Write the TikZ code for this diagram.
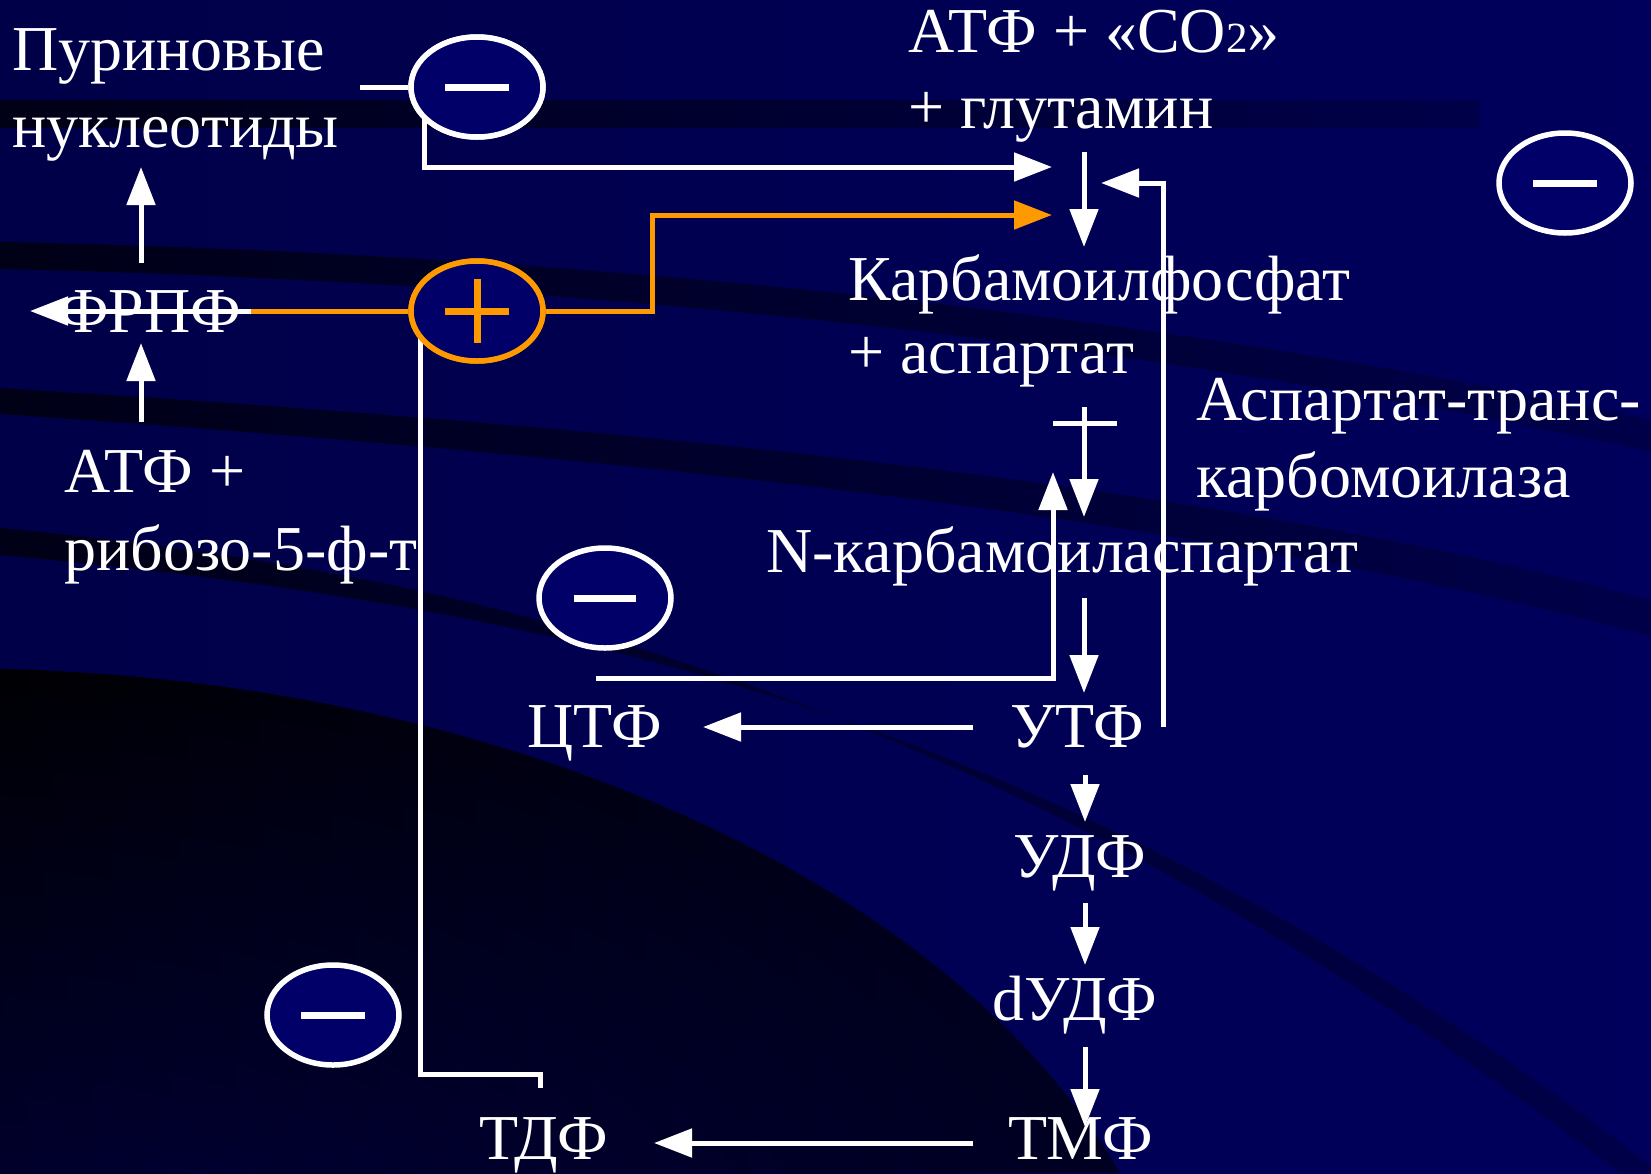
\documentclass[tikz,border=0pt]{standalone}
\usepackage{fontspec}
\setmainfont{Liberation Serif}
\usetikzlibrary{arrows.meta,shapes.geometric}
\definecolor{bgnavy}{RGB}{0,0,92}
\definecolor{bgleft}{RGB}{0,0,72}
\definecolor{ellfill}{RGB}{0,0,104}
\definecolor{orng}{RGB}{255,153,0}
\definecolor{band}{RGB}{0,0,22}
\begin{document}
\begin{tikzpicture}[x=1pt,y=-1pt,
  lbl/.style={anchor=base west, inner sep=0pt, text=white, font=\fontsize{64}{77}\selectfont},
  conn/.style={draw=white, line width=5pt},
  arr/.style={conn, -{Triangle[length=38pt,width=28pt]}},
  oconn/.style={draw=orng, line width=5pt},
  oarr/.style={oconn, -{Triangle[length=38pt,width=28pt]}},
  sign/.style={ellipse, draw=white, line width=5.5pt, fill=ellfill, minimum width=132pt, minimum height=100pt, inner sep=0pt},
  signbar/.style={line width=7pt, line cap=butt},
  bandshade/.style={left color=band, right color=bgnavy!80!black}
  ]
% ---------- background ----------
\useasboundingbox (0,0) rectangle (1651,1173);
\fill[left color=bgleft, right color=bgnavy] (0,0) rectangle (1651,1173);
\shade[bandshade] (0,100) rectangle (1480,127);
\shade[bandshade] (0,242) .. controls (500,252) and (1100,300) .. (1651,420) -- (1651,452) .. controls (1100,330) and (500,280) .. (0,269) -- cycle;
\shade[bandshade] (0,388) .. controls (600,425) and (1200,480) .. (1651,600) -- (1651,636) .. controls (1200,515) and (600,455) .. (0,414) -- cycle;
\shade[bandshade] (0,528) .. controls (500,575) and (1000,700) .. (1620,1173) -- (1660,1173) .. controls (1040,690) and (500,602) .. (0,555) -- cycle;
% dark sweep in the lower left
\foreach \i in {0,...,20}{
  \pgfmathsetmacro\t{\i/20}
  \pgfmathtruncatemacro\pl{96-2.2*\i}
  \pgfmathtruncatemacro\pr{62-0.8*\i}
  \shade[left color=black!\pl!bgnavy, right color=black!\pr!bgnavy]
    (0,{669+\t*(1173-669)}) .. controls ({500*(1-\t)},{680+\t*(1173-680)}) and ({950-\t*(950-100)},{880+\t*(1173-880)}) .. ({1120-\t*(1120-160)},1173) -- (0,1173) -- cycle;
}
% ---------- coordinates ----------
\coordinate (inA) at (360,87);
\coordinate (brA) at (424,110);
\coordinate (tipTopW) at (1052,167);
\coordinate (oB) at (652,215);
\coordinate (tipTopO) at (1052,215);
\coordinate (oL) at (251,311);
\coordinate (tipL) at (30,311);
\coordinate (vA) at (420,330);
\coordinate (vB) at (540,1074);
\coordinate (vC) at (540,1088);
\coordinate (u1s) at (141,263);
\coordinate (u1e) at (141,167);
\coordinate (u2s) at (141,422);
\coordinate (u2e) at (141,343);
\coordinate (d1s) at (1084,152);
\coordinate (d1e) at (1084,247);
\coordinate (rS) at (1163,727);
\coordinate (rE) at (1101,183);
\coordinate (tbL) at (1053,423);
\coordinate (tbR) at (1117,423);
\coordinate (d2s) at (1084,407);
\coordinate (d2e) at (1084,517);
\coordinate (fS) at (596,678);
\coordinate (fE) at (1053,472);
\coordinate (d3s) at (1084,598);
\coordinate (d3e) at (1084,693);
\coordinate (l1s) at (973,727);
\coordinate (l1e) at (703,727);
\coordinate (d4s) at (1085,775);
\coordinate (d4e) at (1085,822);
\coordinate (d5s) at (1085,903);
\coordinate (d5e) at (1085,965);
\coordinate (d6s) at (1085,1047);
\coordinate (d6e) at (1085,1127);
\coordinate (l2s) at (973,1143);
\coordinate (l2e) at (654,1143);
% ---------- sign ellipses (nodes) ----------
\node[sign] (mA) at (477,87) {};
\node[sign, draw=orng] (pA) at (477,311) {};
\node[sign] (mB) at (605,598) {};
\node[sign] (mC) at (1565,183) {};
\node[sign] (mD) at (333,1015) {};
% ---------- connectors ----------
\draw[conn] (inA) -- (mA.west);
\draw[arr] (brA) |- (tipTopW);
\draw[oarr] (pA.east) -| (oB) -- (tipTopO);
\draw[oconn] (oL) -- (pA.west);
\draw[arr] (oL) -- (tipL);
\draw[conn] (vA) |- (vB) -- (vC);
\draw[arr] (u1s) -- (u1e);
\draw[arr] (u2s) -- (u2e);
\draw[arr] (d1s) -- (d1e);
\draw[arr] (rS) |- (rE);
\draw[conn] (tbL) -- (tbR);
\draw[arr] (d2s) -- (d2e);
\draw[arr] (fS) -| (fE);
\draw[arr] (d3s) -- (d3e);
\draw[arr] (l1s) -- (l1e);
\draw[arr] (d4s) -- (d4e);
\draw[arr] (d5s) -- (d5e);
\draw[arr] (d6s) -- (d6e);
\draw[arr] (l2s) -- (l2e);
% redraw ellipses on top of connector ends
\node[sign] at (mA) {};
\node[sign, draw=orng] at (pA) {};
% signs
\draw[signbar, white] ([xshift=-32pt]mA.center) -- ([xshift=32pt]mA.center);
\draw[signbar, orng] ([xshift=-32pt]pA.center) -- ([xshift=32pt]pA.center);
\draw[signbar, orng] ([yshift=-32pt]pA.center) -- ([yshift=32pt]pA.center);
\draw[signbar, white] ([xshift=-31pt]mB.center) -- ([xshift=31pt]mB.center);
\draw[signbar, white] ([xshift=-32pt]mC.center) -- ([xshift=32pt]mC.center);
\draw[signbar, white] ([xshift=-32pt]mD.center) -- ([xshift=32pt]mD.center);
% ---------- texts ----------
\node[lbl] (pur1) at (12,70) {Пуриновые};
\node[lbl] (pur2) at (12,147) {нуклеотиды};
\node[lbl] (frpf) at (58,332) {ФРПФ};
\node[lbl] (atf1) at (64,492) {АТФ +};
\node[lbl] (atf2) at (64,570) {рибозо-5-ф-т};
\node[lbl] (top1) at (908,52) {АТФ + «СО{\fontsize{43}{43}\selectfont 2}»};
\node[lbl] (top2) at (908,128) {+ глутамин};
\node[lbl] (carb1) at (848,300) {Карбамоилфосфат};
\node[lbl] (carb2) at (848,373) {+ аспартат};
\node[lbl] (enz1) at (1196,420) {Аспартат-транс-};
\node[lbl] (enz2) at (1196,497) {карбомоилаза};
\node[lbl] (ncarb) at (766,572) {N-карбамоиласпартат};
\node[lbl] (ctf) at (527,747) {ЦТФ};
\node[lbl] (utf) at (1010,747) {УТФ};
\node[lbl] (udf) at (1013,877) {УДФ};
\node[lbl] (dudf) at (992,1020) {dУДФ};
\node[lbl] (tmf) at (1008,1159) {ТМФ};
\node[lbl] (tdf) at (479,1159) {ТДФ};
\end{tikzpicture}
\end{document}
